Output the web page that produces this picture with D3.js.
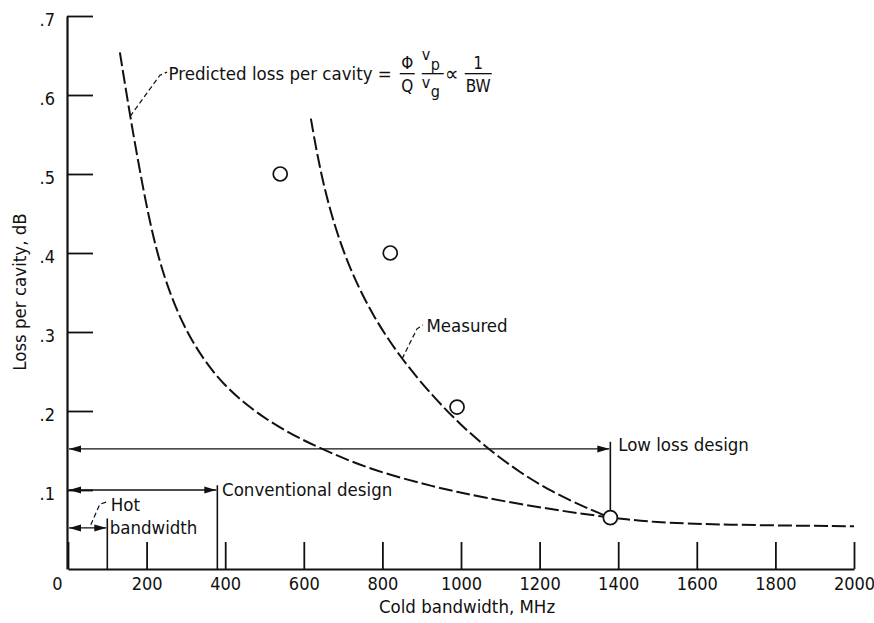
<!DOCTYPE html>
<html>
<head>
<meta charset="utf-8">
<script src="https://cdn.jsdelivr.net/npm/d3@7"></script>
<style>
  body { margin: 0; background: #fff; }
  svg text { font-family: "DejaVu Sans", sans-serif; font-stretch: condensed; fill: #111; }
</style>
</head>
<body>
<svg id="chart" width="874" height="623"></svg>
<script>
// tick values
const xTicks = [0, 200, 400, 600, 800, 1000, 1200, 1400, 1600, 1800, 2000];
const yTicks = [0.1, 0.2, 0.3, 0.4, 0.5, 0.6, 0.7];

// predicted loss per cavity
const predBW   = [132, 158, 191, 221, 260, 310, 379, 463, 557, 641, 761, 929, 1060, 1234, 1380, 1489, 1659, 2000];
const predLoss = [0.654, 0.573, 0.481, 0.409, 0.346, 0.291, 0.241, 0.203, 0.173, 0.153, 0.127, 0.104, 0.090, 0.075, 0.065, 0.059, 0.056, 0.054];

// measured curve
const measBW   = [618, 641, 674, 718, 776, 845, 929, 1000, 1069, 1150, 1234, 1320, 1380];
const measLoss = [0.570, 0.505, 0.440, 0.378, 0.320, 0.268, 0.218, 0.182, 0.152, 0.122, 0.097, 0.077, 0.065];

// measured points
const pointBW   = [540, 820, 990, 1380];
const pointLoss = [0.5, 0.4, 0.205, 0.065];

// bandwidth spans
const spanNames  = ['Hot bandwidth', 'Conventional design', 'Low loss design'];
const spanEnds   = [100, 380, 1380];
const spanLevels = [0.052, 0.1, 0.152];
const spanTops   = [0.064, 0.106, 0.161];
const spanBottoms = [0, 0, 0.074];

const svg = d3.select('svg#chart');
const x = d3.scaleLinear().domain([0, 2000]).range([68, 854]);
const y = d3.scaleLinear().domain([0, 0.7]).range([569, 16]);
const fs = 18.5;

const defs = svg.append('defs');
defs.append('marker')
    .attr('id', 'arrow')
    .attr('viewBox', '0 0 12 8')
    .attr('refX', 12).attr('refY', 4)
    .attr('markerWidth', 12).attr('markerHeight', 8)
    .attr('markerUnits', 'userSpaceOnUse')
    .attr('orient', 'auto-start-reverse')
  .append('path')
    .attr('d', 'M0,0.5L12,4L0,7.5Z')
    .attr('fill', '#111');

// axes
const xAxis = svg.append('g')
    .attr('transform', `translate(0,${y(0)})`)
    .call(d3.axisBottom(x).tickValues(xTicks).tickSizeInner(-27).tickSizeOuter(0).tickPadding(8).tickFormat(d3.format('d')));
xAxis.selectAll('text').attr('dx', d => d === 0 ? -11 : 0);

const yAxis = svg.append('g')
    .attr('transform', `translate(${x(0) - 1},0)`)
    .call(d3.axisLeft(y).tickValues(yTicks).tickSizeInner(-26).tickSizeOuter(0).tickPadding(12)
      .tickFormat(d => '.' + Math.round(d * 10)));
yAxis.selectAll('text').attr('dy', '0.5em');

svg.selectAll('.domain').attr('stroke', '#111').attr('stroke-width', 2.2);
svg.selectAll('.tick line').attr('stroke', '#111').attr('stroke-width', 1.8);
svg.selectAll('.tick text').attr('font-size', 18).attr('fill', '#111');

svg.append('text')
    .attr('x', x(1000) + 6).attr('y', 613)
    .attr('text-anchor', 'middle')
    .attr('font-size', fs)
    .text('Cold bandwidth,  MHz');

svg.append('text')
    .attr('transform', 'translate(26,292) rotate(-90)')
    .attr('text-anchor', 'middle')
    .attr('font-size', fs)
    .text('Loss per cavity,  dB');

// curves
const line = d3.line().x(d => x(d[0])).y(d => y(d[1])).curve(d3.curveBasis);
const curves = [d3.zip(predBW, predLoss), d3.zip(measBW, measLoss)];
svg.append('g').selectAll('path').data(curves)
  .enter().append('path')
    .attr('d', line)
    .attr('fill', 'none')
    .attr('stroke', '#111')
    .attr('stroke-width', 2)
    .attr('stroke-dasharray', '14,4');

// spans with arrows
const spans = spanNames.map((n, i) => ({name: n, end: spanEnds[i], level: spanLevels[i], top: spanTops[i], bottom: spanBottoms[i]}));
const sg = svg.append('g');
sg.selectAll('line.span').data(spans)
  .enter().append('line')
    .attr('class', 'span')
    .attr('x1', x(0) + 1).attr('x2', d => x(d.end) - 1)
    .attr('y1', d => y(d.level)).attr('y2', d => y(d.level))
    .attr('stroke', '#111')
    .attr('stroke-width', 1.3)
    .attr('marker-start', 'url(#arrow)')
    .attr('marker-end', 'url(#arrow)');
sg.selectAll('line.bar').data(spans)
  .enter().append('line')
    .attr('class', 'bar')
    .attr('x1', d => x(d.end)).attr('x2', d => x(d.end))
    .attr('y1', d => y(d.top)).attr('y2', d => y(d.bottom))
    .attr('stroke', '#111')
    .attr('stroke-width', 1.6);

// measured points
svg.append('g').selectAll('circle').data(d3.zip(pointBW, pointLoss))
  .enter().append('circle')
    .attr('cx', d => x(d[0]))
    .attr('cy', d => y(d[1]))
    .attr('r', 7)
    .attr('fill', '#fff')
    .attr('stroke', '#111')
    .attr('stroke-width', 1.7);

// span labels
svg.append('text').attr('x', x(109)).attr('y', y(0.081)).attr('dy', '0.35em').attr('font-size', fs).text('Hot');
svg.append('text').attr('x', x(106)).attr('y', y(0.053)).attr('dy', '0.35em').attr('font-size', fs).text('bandwidth');
svg.append('text').attr('x', x(392)).attr('y', y(0.101)).attr('dy', '0.35em').attr('font-size', fs).text('Conventional design');
svg.append('text').attr('x', x(1400)).attr('y', y(0.158)).attr('dy', '0.35em').attr('font-size', fs).text('Low loss design');

// leaders
const leaders = [
  [[158, 0.573], [234, 0.625], [252, 0.629]],
  [[850, 0.266], [888, 0.304], [903, 0.309]],
  [[58, 0.056], [81, 0.082], [99, 0.085]]
];
svg.append('g').selectAll('path').data(leaders)
  .enter().append('path')
    .attr('d', d3.line().x(d => x(d[0])).y(d => y(d[1])))
    .attr('fill', 'none')
    .attr('stroke', '#111')
    .attr('stroke-width', 1.2)
    .attr('stroke-dasharray', '5,3');

svg.append('text').attr('x', x(912)).attr('y', y(0.308)).attr('dy', '0.35em').attr('font-size', fs).text('Measured');

// predicted label + formula
const pl = svg.append('text')
    .attr('x', x(256)).attr('y', y(0.627)).attr('dy', '0.35em')
    .attr('font-size', fs)
    .text('Predicted loss per cavity =');
const ex = x(256) + pl.node().getComputedTextLength();
const fy = y(0.627);
const fg = svg.append('g').attr('transform', `translate(${ex},${fy})`);
const frac = [[8, 23], [30, 52], [73, 100]];
fg.selectAll('line').data(frac).enter().append('line')
    .attr('x1', d => d[0]).attr('x2', d => d[1])
    .attr('y1', 0).attr('y2', 0)
    .attr('stroke', '#111').attr('stroke-width', 1.3);
const ft = (tx, ty, s, size, anchor) => fg.append('text')
    .attr('x', tx).attr('y', ty).attr('font-size', size)
    .attr('text-anchor', anchor || 'middle').text(s);
ft(15.5, -5, 'Φ', 17);
ft(15.5, 18, 'Q', 17);
ft(30, -14, 'v', 16, 'start');
ft(39, -4, 'p', 16, 'start');
ft(30, 14, 'v', 16, 'start');
ft(39, 23, 'g', 16, 'start');
ft(60, 7, '∝', 21);
ft(86.5, -5, '1', 17);
ft(86.5, 18, 'BW', 17);
</script>
</body>
</html>
